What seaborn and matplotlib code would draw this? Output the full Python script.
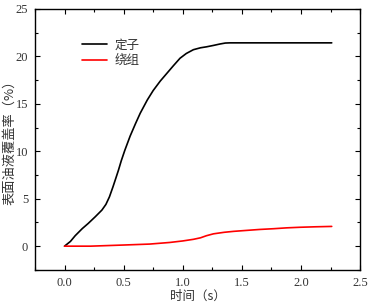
import pandas as pd
import matplotlib
import matplotlib.pyplot as plt
from matplotlib.ticker import MultipleLocator
import seaborn as sns

# stator (定子) coverage curve
t_stator = [0.0, 0.05, 0.09, 0.15, 0.20, 0.26, 0.316, 0.35, 0.38, 0.41,
            0.435, 0.456, 0.48, 0.51, 0.555, 0.60, 0.64, 0.70, 0.75, 0.81,
            0.865, 0.92, 0.977, 1.03, 1.09, 1.15, 1.20, 1.26, 1.315, 1.36,
            1.40, 1.70, 2.26]
y_stator = [0.0, 0.5, 1.1, 1.85, 2.39, 3.1, 3.8, 4.4, 5.2, 6.26,
            7.2, 8.0, 9.0, 10.1, 11.6, 12.9, 14.0, 15.4, 16.4, 17.4,
            18.2, 19.0, 19.8, 20.3, 20.7, 20.9, 21.0, 21.15, 21.3, 21.4,
            21.42, 21.42, 21.42]

# winding (绕组) coverage curve
t_winding = [0.0, 0.22, 0.5, 0.72, 0.89, 1.0, 1.09, 1.15, 1.20, 1.26,
             1.35, 1.43, 1.55, 1.65, 1.77, 1.88, 1.99, 2.12, 2.26]
y_winding = [0.0, 0.0, 0.12, 0.22, 0.39, 0.55, 0.72, 0.88, 1.1, 1.3,
             1.46, 1.56, 1.67, 1.76, 1.84, 1.93, 1.99, 2.04, 2.08]

df = pd.concat([
    pd.DataFrame({"t": t_stator, "y": y_stator, "part": "定子"}),
    pd.DataFrame({"t": t_winding, "y": y_winding, "part": "绕组"}),
])

sns.set_style("ticks")
plt.rcParams["font.family"] = ["Liberation Serif", "Noto Sans CJK SC"]

fig = plt.figure(figsize=(3.72, 3.06), dpi=100)
ax = fig.add_axes([0.094, 0.118, 0.874, 0.853])

sns.lineplot(data=df, x="t", y="y", hue="part",
             palette={"定子": "black", "绕组": "red"},
             linewidth=1.2, ax=ax, sort=False)

ax.set_xlim(-0.25, 2.5)
ax.set_ylim(-2.5, 25)
ax.xaxis.set_major_locator(MultipleLocator(0.5))
ax.xaxis.set_minor_locator(MultipleLocator(0.25))
ax.yaxis.set_major_locator(MultipleLocator(5))
ax.yaxis.set_minor_locator(MultipleLocator(2.5))
ax.xaxis.set_major_formatter(matplotlib.ticker.FormatStrFormatter("%.1f"))
ax.tick_params(which="both", direction="in", top=True, right=True,
               labelsize=9, colors="#333333", width=0.8)
ax.tick_params(which="both", color="black")
ax.tick_params(which="major", length=3.5, pad=5)
ax.tick_params(which="minor", length=2)
for s in ax.spines.values():
    s.set_linewidth(1.0)
    s.set_color("black")

ax.set_xlabel("时间（s）", fontsize=9, color="#333333",
              family=["Noto Sans CJK SC"], labelpad=1)
ax.set_ylabel("表面油液覆盖率（%）", fontsize=9.5, color="#333333",
              family=["Noto Sans CJK SC"])
ax.yaxis.set_label_coords(-0.058, 0.5)

leg = ax.legend(loc="upper left", bbox_to_anchor=(0.11, 0.93), frameon=False,
                handlelength=2.0, labelspacing=0.2, handletextpad=0.6,
                prop={"family": "Noto Sans CJK SC", "size": 9})
for txt in leg.get_texts():
    txt.set_color("#333333")

fig.savefig("out.png", dpi=100)
